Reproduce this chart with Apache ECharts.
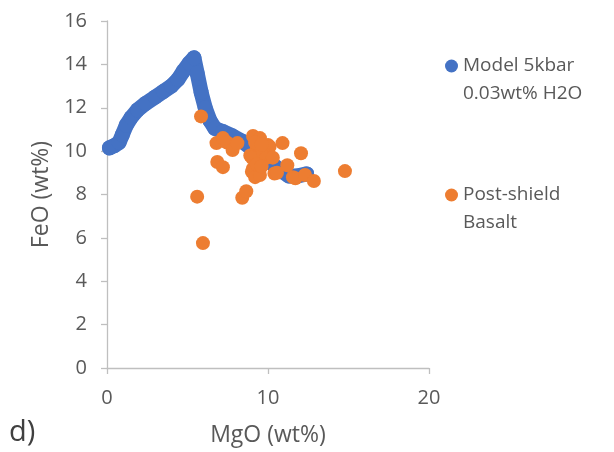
<!DOCTYPE html>
<html>
<head>
<meta charset="utf-8">
<title>FeO vs MgO</title>
<script src="https://cdn.jsdelivr.net/npm/echarts@6/dist/echarts.min.js"></script>
<style>
  html, body { margin: 0; padding: 0; background: #fff; }
  #chart { width: 614px; height: 452px; }
</style>
</head>
<body>
<div id="chart"></div>
<script>
// Liquid line of descent, 5 kbar, 0.03 wt% H2O: [MgO, FeO]
const modelPath = [
  [0.15, 10.15], [0.45, 10.25], [0.75, 10.4], [0.95, 10.75], [1.2, 11.2],
  [1.5, 11.55], [1.9, 11.9], [2.4, 12.2], [3.0, 12.5], [3.5, 12.75],
  [4.0, 13.0], [4.4, 13.3], [4.75, 13.7], [5.1, 14.05], [5.4, 14.3],
  [5.6, 13.6], [5.85, 12.7], [6.1, 12.0], [6.4, 11.4], [6.7, 11.05],
  [7.2, 10.9], [7.8, 10.7], [8.4, 10.45], [9.0, 10.1], [9.6, 9.8],
  [10.2, 9.45], [10.8, 9.1], [11.3, 8.85], [11.8, 8.85], [12.4, 8.95]
];

// Post-shield basalt analyses: [MgO, FeO]
const postShield = [
  [5.84, 11.6], [5.6, 7.9], [5.96, 5.76], [6.8, 10.37], [7.2, 10.6],
  [7.45, 10.4], [7.8, 10.05], [8.1, 10.37], [6.85, 9.5], [7.2, 9.26],
  [8.4, 7.85], [8.65, 8.15], [9.07, 10.7], [9.5, 10.6], [9.3, 10.1],
  [10.0, 10.28], [10.1, 10.2], [10.9, 10.37], [12.05, 9.9], [8.9, 9.8],
  [9.0, 9.7], [9.7, 9.9], [9.9, 9.7], [10.3, 9.7], [9.07, 9.2],
  [9.0, 9.05], [9.2, 8.8], [9.5, 8.9], [10.4, 8.97], [10.56, 9.0],
  [11.2, 9.35], [11.55, 8.8], [11.7, 8.75], [12.3, 8.9], [12.85, 8.62],
  [14.78, 9.08], [9.2, 10.4], [9.6, 10.3], [9.3, 9.4], [9.6, 9.3]
];

const xTicks = { min: 0, max: 20, interval: 10 };
const yTicks = { min: 0, max: 16, interval: 2 };

const seriesNames = ['Model 5kbar 0.03wt% H2O', 'Post-shield Basalt'];
// A blank leading line keeps the marker level with the first text line
const legendLines = {
  'Model 5kbar 0.03wt% H2O': ' \nModel 5kbar\n0.03wt% H2O',
  'Post-shield Basalt': ' \nPost-shield\nBasalt'
};

const BLUE = '#4472C4';
const ORANGE = '#ED7D31';
const TEXT = '#595959';
const AXIS = '#BFBFBF';
const FONT = '"Open Sans", "Liberation Sans", sans-serif';

const chart = echarts.init(document.getElementById('chart'), null, { renderer: 'canvas' });

const legendText = { color: TEXT, fontFamily: FONT, fontSize: 19, lineHeight: 28 };

function legendFor(name, iconCenterY) {
  return {
    data: [name], left: 445, top: iconCenterY - 42, padding: 0,
    icon: 'circle', itemWidth: 13, itemHeight: 13, itemGap: 0,
    selectedMode: false, textStyle: legendText,
    formatter: n => legendLines[n]
  };
}

chart.setOption({
  animation: false,
  backgroundColor: '#fff',
  textStyle: { fontFamily: FONT },
  grid: { left: 107, right: 185, top: 21, bottom: 84, containLabel: false },
  legend: [legendFor(seriesNames[0], 66), legendFor(seriesNames[1], 195)],
  xAxis: {
    type: 'value',
    min: xTicks.min, max: xTicks.max, interval: xTicks.interval,
    name: 'MgO (wt%)', nameLocation: 'middle', nameGap: 56,
    nameTextStyle: { color: TEXT, fontSize: 23, fontFamily: FONT },
    axisLine: { show: true, onZero: false, lineStyle: { color: AXIS, width: 1.3 } },
    axisTick: { show: true, length: 6, lineStyle: { color: AXIS, width: 1.3 } },
    axisLabel: { color: TEXT, fontSize: 20, margin: 20, fontFamily: FONT },
    splitLine: { show: false }
  },
  yAxis: {
    type: 'value',
    min: yTicks.min, max: yTicks.max, interval: yTicks.interval,
    name: 'FeO (wt%)', nameLocation: 'middle', nameGap: 54, nameRotate: 90,
    nameTextStyle: { color: TEXT, fontSize: 23, fontFamily: FONT },
    axisLine: { show: true, onZero: false, lineStyle: { color: AXIS, width: 1.3 } },
    axisTick: { show: true, length: 6, lineStyle: { color: AXIS, width: 1.3 } },
    axisLabel: { color: TEXT, fontSize: 20, margin: 20, fontFamily: FONT },
    splitLine: { show: false }
  },
  series: [
    {
      name: seriesNames[0],
      type: 'line',
      data: modelPath,
      symbol: 'circle',
      symbolSize: 15,
      showSymbol: true,
      itemStyle: { color: BLUE },
      lineStyle: { color: BLUE, width: 15, cap: 'round', join: 'round' },
      z: 2
    },
    {
      name: seriesNames[1],
      type: 'scatter',
      data: postShield,
      symbol: 'circle',
      symbolSize: 14,
      itemStyle: { color: ORANGE, opacity: 1 },
      z: 3
    }
  ],
  graphic: [
    {
      type: 'text', left: 9, top: 418,
      style: { text: 'd)', fill: '#404040', font: '29px ' + FONT }
    }
  ]
});
</script>
</body>
</html>
